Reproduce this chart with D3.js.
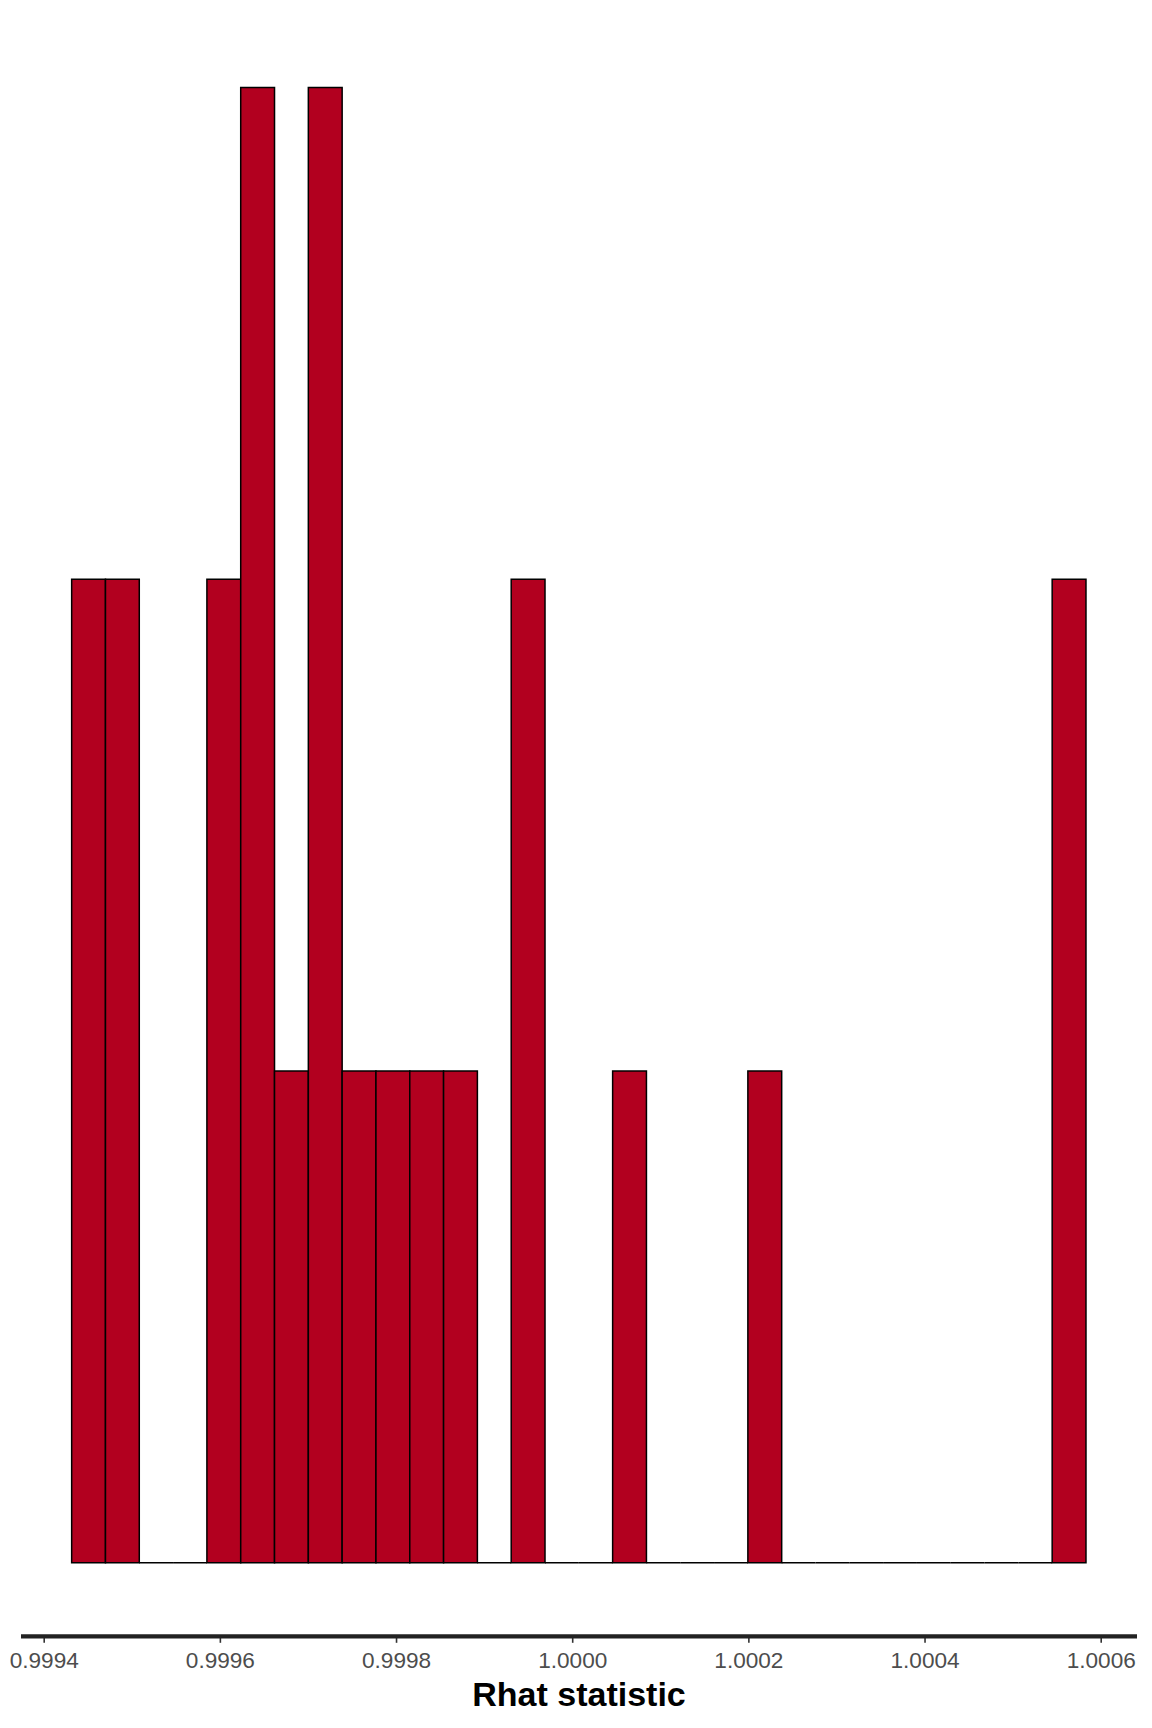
<!DOCTYPE html>
<html>
<head>
<meta charset="utf-8">
<script src="https://cdn.jsdelivr.net/npm/d3@7"></script>
<style>
  html, body { margin: 0; padding: 0; background: #ffffff; }
  svg { display: block; }
</style>
</head>
<body>
<svg id="chart" width="1152" height="1728"></svg>
<script>
// ---- data ----
const binStart = 0.99943174;
const binWidth = 0.000038385;
const counts = [2, 2, 0, 0, 2, 3, 1, 3, 1, 1, 1, 1, 0, 2, 0, 0, 1, 0, 0, 0, 1, 0, 0, 0, 0, 0, 0, 0, 0, 2];
const tickValues = [0.9994, 0.9996, 0.9998, 1.0000, 1.0002, 1.0004, 1.0006];
const tickLabels = ["0.9994", "0.9996", "0.9998", "1.0000", "1.0002", "1.0004", "1.0006"];
const xTitle = "Rhat statistic";

// ---- layout ----
const svg = d3.select("#chart");
const x = d3.scaleLinear().domain([0.9994, 1.0006]).range([43.7, 1100.7]);
const y = d3.scaleLinear().domain([0, 3]).range([1562.7, 87.6]);

const bins = counts.map((c, i) => ({
  x0: binStart + i * binWidth,
  x1: binStart + (i + 1) * binWidth,
  count: c
}));

// bars (paths so zero-count bins still draw their baseline outline)
svg.append("g")
  .selectAll("path")
  .data(bins)
  .join("path")
  .attr("d", d => {
    const p = d3.path();
    const X0 = x(d.x0), X1 = x(d.x1), Y0 = y(0), Y1 = y(d.count);
    p.moveTo(X0, Y0);
    p.lineTo(X0, Y1);
    p.lineTo(X1, Y1);
    p.lineTo(X1, Y0);
    p.closePath();
    return p.toString();
  })
  .attr("fill", "#b2001f")
  .attr("stroke", "#000000")
  .attr("stroke-width", 1.5)
  .attr("stroke-linejoin", "miter");

// x axis
const axisY = 1636.3;
const axis = d3.axisBottom(x)
  .tickValues(tickValues)
  .tickFormat((d, i) => tickLabels[i])
  .tickSize(6.5)
  .tickPadding(9);

const gAxis = svg.append("g")
  .attr("transform", `translate(0,${axisY})`)
  .call(axis);

gAxis.select(".domain").remove();
gAxis.selectAll(".tick line")
  .attr("stroke", "#333333")
  .attr("stroke-width", 1.6);
gAxis.selectAll(".tick text")
  .attr("fill", "#4d4d4d")
  .attr("font-family", "Liberation Sans, Arial, sans-serif")
  .attr("font-size", 22.6)
  .attr("dy", null)
  .attr("y", 32.2);

// thick axis line spanning the panel
svg.append("line")
  .attr("x1", 21)
  .attr("x2", 1137)
  .attr("y1", axisY)
  .attr("y2", axisY)
  .attr("stroke", "#222222")
  .attr("stroke-width", 4.2);

// axis title
svg.append("text")
  .attr("x", 579)
  .attr("y", 1706)
  .attr("text-anchor", "middle")
  .attr("font-family", "Liberation Sans, Arial, sans-serif")
  .attr("font-weight", "bold")
  .attr("font-size", 34)
  .attr("fill", "#000000")
  .text(xTitle);
</script>
</body>
</html>
